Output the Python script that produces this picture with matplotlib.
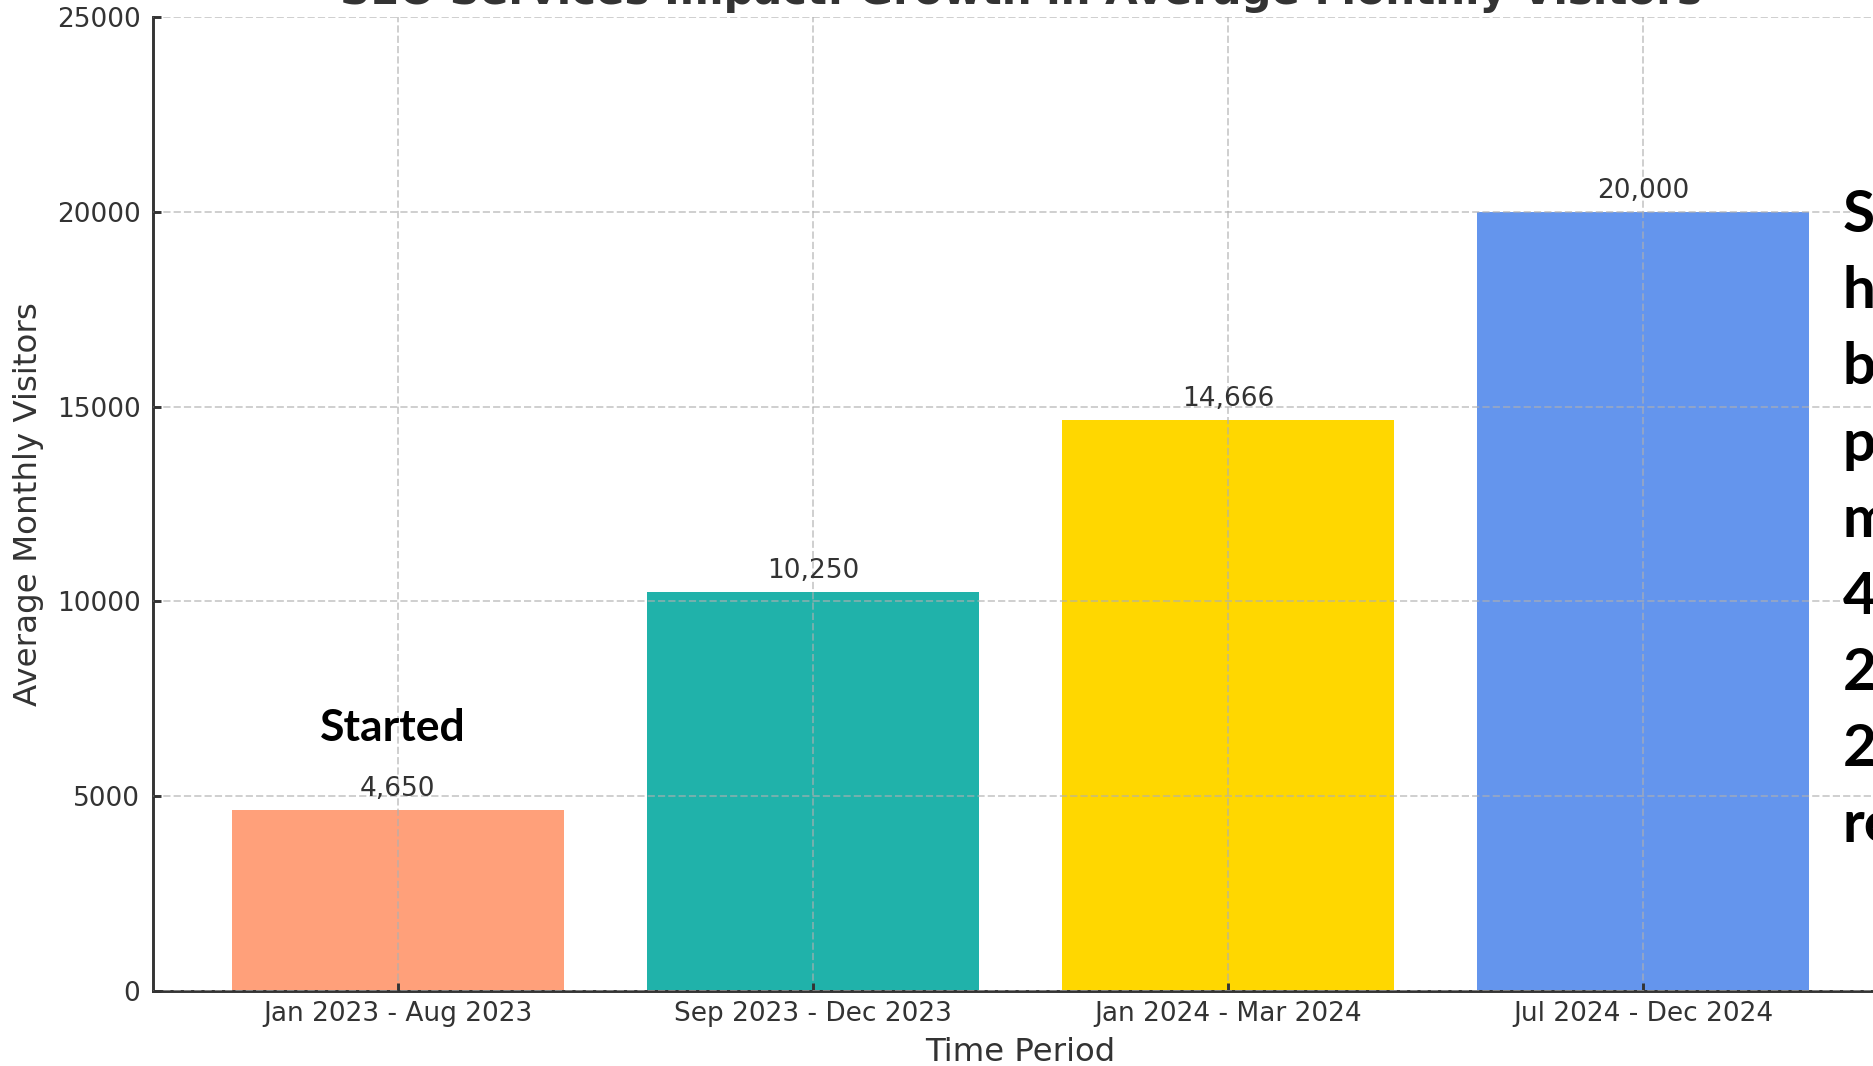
import matplotlib
matplotlib.use('Agg')
import matplotlib.pyplot as plt

periods = ['Jan 2023 - Aug 2023', 'Sep 2023 - Dec 2023', 'Jan 2024 - Mar 2024', 'Jul 2024 - Dec 2024']
visitors = [4650, 10250, 14666, 20000]
bar_colors = ['#FFA07A', '#20B2AA', '#FFD700', '#6495ED']
note_lines = ['SEO', 'has', 'boosted', 'page', 'monthly', '4x', '2023', '2024', 'results']

ink = '#333333'
plt.rcParams['font.family'] = 'DejaVu Sans'

fig = plt.figure(figsize=(18.74, 10.66), dpi=100)
ax = fig.add_axes([0.0816, 0.0704, 0.926, 0.9136])

bars = ax.bar(periods, visitors, width=0.8, color=bar_colors)
ax.set_ylim(0, 25000)

for b, v in zip(bars, visitors):
    ax.text(b.get_x() + b.get_width() / 2, v + 200, f'{v:,}', ha='center', va='bottom',
            fontsize=19, color=ink)

ax.set_title('SEO Services Impact: Growth in Average Monthly Visitors',
             fontsize=30.3, fontweight='bold', color=ink, pad=9.6)
ax.set_xlabel('Time Period', fontsize=23.3, color=ink, labelpad=7)
ax.set_ylabel('Average Monthly Visitors', fontsize=23.4, color=ink, labelpad=9)

ax.grid(True, linestyle='--', linewidth=1.4, color='#b0b0b0', alpha=0.6)
ax.set_axisbelow(False)
for s in ['top', 'right']:
    ax.spines[s].set_visible(False)
for s in ['left', 'bottom']:
    ax.spines[s].set_linewidth(2.1)
    ax.spines[s].set_color(ink)
ax.tick_params(direction='in', length=6, width=2.1, color=ink, labelcolor=ink,
               labelsize=19, pad=9)
ax.tick_params(axis='x', pad=7.5)

# annotations laid over the figure
fig.text(393 / 1874, 1 - 728 / 1066, 'Started', family=['Lato', 'DejaVu Sans'],
         fontweight='bold', fontsize=32, color='black', ha='center', va='center')
fig.text(1843 / 1874, 1 - 189 / 1066, '\n'.join(note_lines), family=['Lato', 'DejaVu Sans'],
         fontweight='bold', fontsize=42, color='black', ha='left', va='top', linespacing=1.54)

fig.savefig('out.png', dpi=100)
